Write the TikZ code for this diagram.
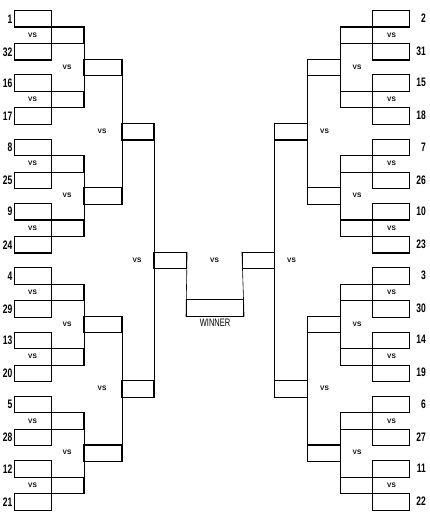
\documentclass[tikz,border=0pt]{standalone}
\usepackage{fontspec}
\setmainfont{Liberation Sans}
\usepackage{graphicx}
\usetikzlibrary{positioning}
\newcommand{\tall}[1]{\scalebox{1}[1.45]{#1}}

\begin{document}
\begin{tikzpicture}[x=1pt, y=-1pt,
  slot/.style={draw, line width=1.1pt, minimum height=16.5pt, inner sep=0pt},
  lslot/.style={slot, anchor=north west},
  rslot/.style={slot, anchor=north east},
  link/.style={line width=0.6pt},
  num/.style={font=\bfseries\fontsize{8.5}{9}\selectfont, inner sep=0pt},
  vs/.style={font=\bfseries\fontsize{6.5}{7}\selectfont, inner sep=0pt}]
\useasboundingbox (0,0) rectangle (429,529);
% left half, first round
\foreach \a/\b [count=\n from 0] in {1/32,16/17,8/25,9/24,4/29,13/20,5/28,12/21}{
  \pgfmathsetmacro\t{10+64.3*\n}
  \node[lslot, minimum width=37pt] (L\a) at (14,\t) {};
  \node[lslot, minimum width=37pt] (L\b) at (14,{\t+33}) {};
  \node[lslot, minimum width=32pt] (L2-\n) at (51,{\t+16.5}) {};
  \node[num, left=1.5pt of L\a] (nL\a) {\tall{\a}};
  \node[num, left=1.5pt of L\b] (nL\b) {\tall{\b}};
  \node[vs] (vL1-\n) at (32.5,{\t+25}) {VS};
}
\foreach \j [evaluate=\j as \ja using int(2*\j), evaluate=\j as \jb using int(2*\j+1)] in {0,...,3}{
  \pgfmathsetmacro\t{58.65+128.6*\j}
  \node[lslot, minimum width=38pt] (L3-\j) at (83,\t) {};
  \draw[link] (L2-\ja.north east) -- (L2-\jb.south east);
  \node[vs] (vL2-\j) at (67,{\t+8.25}) {VS};
}
\foreach \k [evaluate=\k as \ka using int(2*\k), evaluate=\k as \kb using int(2*\k+1)] in {0,1}{
  \pgfmathsetmacro\t{122.95+257.2*\k}
  \node[lslot, minimum width=32pt] (L4-\k) at (121,\t) {};
  \draw[link] (L3-\ka.north east) -- (L3-\kb.south east);
  \node[vs] (vL3-\k) at (102,{\t+8.25}) {VS};
}
\node[lslot, minimum width=33pt] (L5) at (153,251.55) {};
\draw[link] (L4-0.north east) -- (L4-1.south east);
\node[vs] (vL4) at (137,259.8) {VS};
% right half, first round
\foreach \a/\b [count=\n from 0] in {2/31,15/18,7/26,10/23,3/30,14/19,6/27,11/22}{
  \pgfmathsetmacro\t{10+64.3*\n}
  \node[rslot, minimum width=37pt] (R\a) at (410,\t) {};
  \node[rslot, minimum width=37pt] (R\b) at (410,{\t+33}) {};
  \node[rslot, minimum width=32pt] (R2-\n) at (373,{\t+16.5}) {};
  \node[num, anchor=east] (nR\a) at (426,{\t+8.25}) {\tall{\a}};
  \node[num, anchor=east] (nR\b) at (426,{\t+41.25}) {\tall{\b}};
  \node[vs] (vR1-\n) at (391.5,{\t+25}) {VS};
}
\foreach \j [evaluate=\j as \ja using int(2*\j), evaluate=\j as \jb using int(2*\j+1)] in {0,...,3}{
  \pgfmathsetmacro\t{58.65+128.6*\j}
  \node[rslot, minimum width=33pt] (R3-\j) at (341,\t) {};
  \draw[link] (R2-\ja.north west) -- (R2-\jb.south west);
  \node[vs] (vR2-\j) at (357,{\t+8.25}) {VS};
}
\foreach \k [evaluate=\k as \ka using int(2*\k), evaluate=\k as \kb using int(2*\k+1)] in {0,1}{
  \pgfmathsetmacro\t{122.95+257.2*\k}
  \node[rslot, minimum width=33pt] (R4-\k) at (308,\t) {};
  \draw[link] (R3-\ka.north west) -- (R3-\kb.south west);
  \node[vs] (vR3-\k) at (324.5,{\t+8.25}) {VS};
}
\node[rslot, minimum width=32pt] (R5) at (275,251.55) {};
\draw[link] (R4-0.north west) -- (R4-1.south west);
\node[vs] (vR4) at (291.5,259.8) {VS};
% final
\node[lslot, minimum width=57pt] (win) at (186,299) {};
\draw[link] (L5.north east) -- (win.south west);
\draw[link] (R5.north west) -- (win.south east);
\node[vs] (vF) at (214.5,259.8) {VS};
\node[font=\fontsize{7.5}{8}\selectfont, inner sep=0pt, below=2.5pt of win] (lwin) {\tall{WINNER}};
\end{tikzpicture}
\end{document}
